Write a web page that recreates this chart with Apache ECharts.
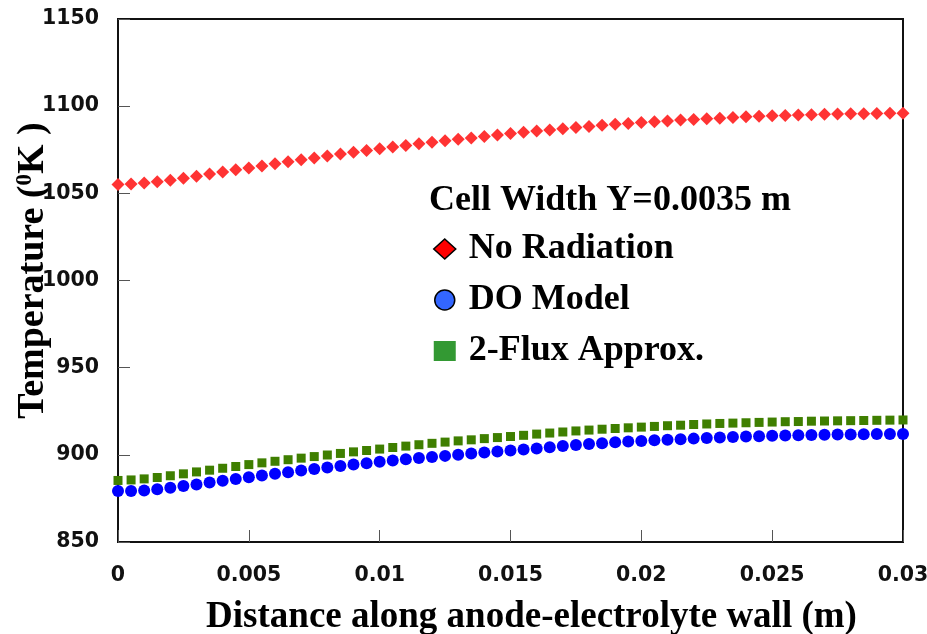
<!DOCTYPE html>
<html>
<head>
<meta charset="utf-8">
<script src="https://cdn.jsdelivr.net/npm/echarts@6/dist/echarts.min.js"></script>
<style>
  html, body { margin: 0; padding: 0; background: #fff; }
  #chart { width: 927px; height: 634px; }
</style>
</head>
<body>
<div id="chart"></div>
<script>
// distance along the wall (m)
const xPos = [
  0, 0.0005, 0.001, 0.0015, 0.002, 0.0025, 0.003, 0.0035, 0.004, 0.0045,
  0.005, 0.0055, 0.006, 0.0065, 0.007, 0.0075, 0.008, 0.0085, 0.009, 0.0095,
  0.01, 0.0105, 0.011, 0.0115, 0.012, 0.0125, 0.013, 0.0135, 0.014, 0.0145,
  0.015, 0.0155, 0.016, 0.0165, 0.017, 0.0175, 0.018, 0.0185, 0.019, 0.0195,
  0.02, 0.0205, 0.021, 0.0215, 0.022, 0.0225, 0.023, 0.0235, 0.024, 0.0245,
  0.025, 0.0255, 0.026, 0.0265, 0.027, 0.0275, 0.028, 0.0285, 0.029, 0.0295,
  0.03
];
// temperature (K)
const noRadiation = [
  1055.0, 1055.4, 1055.9, 1056.6, 1057.5, 1058.6, 1059.8, 1061.1, 1062.3, 1063.5,
  1064.6, 1065.7, 1066.9, 1068.1, 1069.2, 1070.3, 1071.4, 1072.5, 1073.6, 1074.6,
  1075.6, 1076.6, 1077.5, 1078.5, 1079.3, 1080.1, 1081.0, 1081.8, 1082.6, 1083.5,
  1084.3, 1085.0, 1085.7, 1086.4, 1087.1, 1087.8, 1088.4, 1089.0, 1089.6, 1090.1,
  1090.6, 1091.1, 1091.5, 1092.0, 1092.4, 1092.8, 1093.1, 1093.5, 1093.9, 1094.2,
  1094.5, 1094.7, 1094.9, 1095.1, 1095.3, 1095.5, 1095.6, 1095.7, 1095.8, 1095.9,
  1096.0
];
const doModel = [
  879.2, 879.3, 879.6, 880.3, 881.1, 882.1, 883.0, 884.1, 885.1, 886.1,
  887.1, 888.1, 889.1, 890.0, 891.0, 891.9, 892.7, 893.6, 894.4, 895.2,
  896.0, 896.7, 897.5, 898.2, 898.8, 899.4, 900.1, 900.7, 901.3, 901.9,
  902.5, 903.1, 903.7, 904.4, 905.0, 905.6, 906.2, 906.7, 907.2, 907.6,
  908.0, 908.4, 908.7, 909.0, 909.3, 909.6, 909.9, 910.2, 910.5, 910.7,
  910.9, 911.1, 911.3, 911.4, 911.5, 911.6, 911.7, 911.8, 911.9, 911.95,
  912.0
];
const twoFlux = [
  885.3, 885.6, 886.2, 887.0, 888.0, 889.1, 890.2, 891.2, 892.3, 893.3,
  894.4, 895.4, 896.3, 897.2, 898.1, 899.0, 899.9, 900.8, 901.7, 902.5,
  903.3, 904.2, 905.0, 905.8, 906.6, 907.3, 908.0, 908.6, 909.3, 909.9,
  910.5, 911.2, 911.9, 912.5, 913.1, 913.7, 914.2, 914.7, 915.1, 915.5,
  915.9, 916.3, 916.7, 917.0, 917.4, 917.7, 918.0, 918.2, 918.4, 918.6,
  918.8, 919.0, 919.1, 919.3, 919.4, 919.5, 919.6, 919.7, 919.8, 919.9,
  920.0
];
const xTickLabels = ['0', '0.005', '0.01', '0.015', '0.02', '0.025', '0.03'];
const yTickLabels = ['850', '900', '950', '1000', '1050', '1100', '1150'];

const pairs = (ys) => xPos.map((x, i) => [x, ys[i]]);

const chart = echarts.init(document.getElementById('chart'));

const tickFont = { fontFamily: 'DejaVu Sans', fontWeight: 'bold', fontSize: 20.5, color: '#111' };
const serifBold = { fontFamily: 'Liberation Serif', fontWeight: 'bold', color: '#000' };

const option = {
  animation: false,
  backgroundColor: '#fff',
  grid: {
    left: 118, right: 24, top: 19, bottom: 92,
    outerBoundsMode: 'none',
    containLabel: false,
    show: true, borderColor: '#111', borderWidth: 2
  },
  title: {
    text: 'Cell Width Y=0.0035 m',
    left: 424, top: 178,
    textStyle: Object.assign({ fontSize: 36 }, serifBold)
  },
  legend: {
    orient: 'vertical',
    left: 428, top: 226,
    itemGap: 15,
    itemWidth: 22, itemHeight: 20,
    textStyle: Object.assign({ fontSize: 36, padding: [0, 0, 0, 8] }, serifBold),
    data: [
      { name: 'No Radiation', icon: 'diamond', itemStyle: { color: '#ff0000', borderColor: '#000', borderWidth: 1.5 } },
      { name: 'DO Model', icon: 'circle', itemStyle: { color: '#3366ff', borderColor: '#000', borderWidth: 1.5 } },
      { name: '2-Flux Approx.', icon: 'rect', itemStyle: { color: '#339933' } }
    ]
  },
  xAxis: {
    type: 'value',
    min: 0, max: 0.03, interval: 0.005,
    name: 'Distance along anode-electrolyte wall (m)',
    nameLocation: 'middle',
    nameGap: 57,
    nameMoveOverlap: false,
    nameTextStyle: Object.assign({ fontSize: 37, padding: [0, 0, 0, 42] }, serifBold),
    axisLine: { lineStyle: { color: '#111', width: 2 } },
    axisTick: { inside: true, length: 12, lineStyle: { color: '#555', width: 1 } },
    axisLabel: Object.assign({
      margin: 23,
      formatter: (v) => xTickLabels[Math.round(v / 0.005)]
    }, tickFont),
    splitLine: { show: false }
  },
  yAxis: {
    type: 'value',
    min: 850, max: 1150, interval: 50,
    name: '{a|Temperature (}{s|0}{a|K )}',
    nameLocation: 'middle',
    nameGap: 66,
    nameRotate: 90,
    nameMoveOverlap: false,
    nameTextStyle: {
      padding: [0, 0, 0, 20],
      rich: {
        a: Object.assign({ fontSize: 38 }, serifBold),
        s: Object.assign({ fontSize: 23, verticalAlign: 'top', padding: [0, 0, 14, 0] }, serifBold)
      }
    },
    axisLine: { lineStyle: { color: '#111', width: 2 } },
    axisTick: { inside: true, length: 12, lineStyle: { color: '#555', width: 1 } },
    axisLabel: Object.assign({
      margin: 19,
      formatter: (v) => yTickLabels[Math.round((v - 850) / 50)]
    }, tickFont),
    splitLine: { show: false }
  },
  series: [
    {
      name: 'No Radiation', type: 'scatter',
      symbol: 'diamond', symbolSize: 13,
      itemStyle: { color: '#ff3333', opacity: 1 },
      data: pairs(noRadiation)
    },
    {
      name: 'DO Model', type: 'scatter',
      symbol: 'circle', symbolSize: 12,
      itemStyle: { color: '#0000ff', opacity: 1 },
      data: pairs(doModel)
    },
    {
      name: '2-Flux Approx.', type: 'scatter',
      symbol: 'rect', symbolSize: 9,
      itemStyle: { color: '#3f7f00', opacity: 1 },
      data: pairs(twoFlux)
    }
  ]
};

chart.setOption(option);
</script>
</body>
</html>
